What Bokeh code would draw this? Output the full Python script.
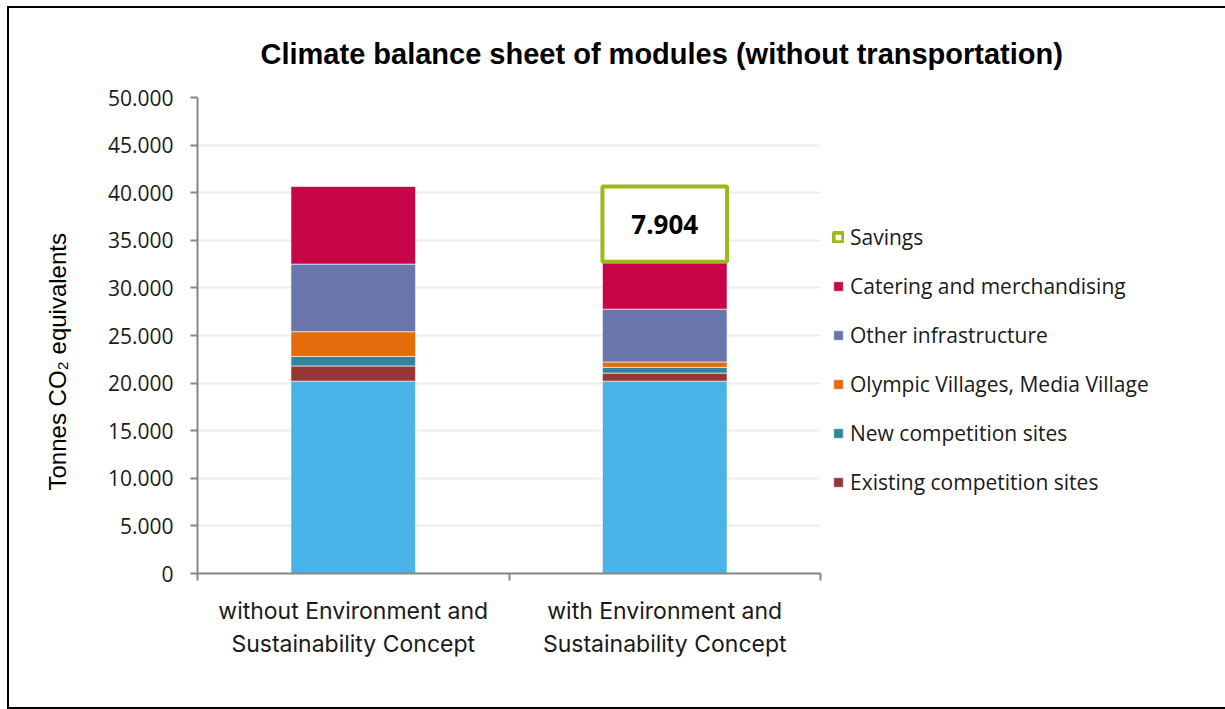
import math
from bokeh.plotting import figure
from bokeh.models import (Range1d, FixedTicker, Legend, LegendItem, Label, ColumnDataSource, Title)
from bokeh.embed import file_html
from bokeh.resources import INLINE

# ---------------- data ----------------
categories = ["without Environment and\nSustainability Concept",
              "with Environment and\nSustainability Concept"]
series_names = ["Base (not in legend)", "Existing competition sites", "New competition sites",
                "Olympic Villages, Media Village", "Other infrastructure",
                "Catering and merchandising"]
base_values = [20200, 20200]
existing_sites = [1600, 850]
new_sites = [1000, 600]
villages = [2600, 570]
other_infrastructure = [7100, 5550]
catering = [8150, 4976]
savings_label = "Savings"
savings_value = 7904
y_ticks = [0, 5000, 10000, 15000, 20000, 25000, 30000, 35000, 40000, 45000, 50000]
y_tick_labels = ["0", "5.000", "10.000", "15.000", "20.000", "25.000",
                 "30.000", "35.000", "40.000", "45.000", "50.000"]
title_text = "Climate balance sheet of modules (without transportation)"
y_label_text = "Tonnes CO\u2082 equivalents"

colors = ["#49B2E6", "#953735", "#31849B", "#E46C0A", "#6B75AD", "#C9054A"]
green = "#9CB91B"

n = len(categories)
centers = [i + 0.5 for i in range(n)]          # category slots on the axis
boundaries = list(range(n + 1))

series_values = [base_values, existing_sites, new_sites, villages, other_infrastructure, catering]
keys = ["s%d" % i for i in range(len(series_values))]
data = {"x": centers}
for k, v in zip(keys, series_values):
    data[k] = v
source = ColumnDataSource(data)

totals = [sum(v[i] for v in series_values) for i in range(n)]

# ---------------- figure ----------------
p = figure(x_range=Range1d(0, n), y_range=Range1d(0, 50000),
           frame_width=623, frame_height=476, output_backend="svg", toolbar_location=None,
           min_border_left=188, min_border_right=0, min_border_top=89, min_border_bottom=134)
p.styles = {"border": "2px solid black", "margin-left": "7px", "margin-top": "6px"}
p.outline_line_color = None
p.background_fill_color = "white"
p.border_fill_color = "white"

font = "Open Sans"

# title
p.title.text = title_text
p.title.align = "left"
p.title.offset = 63
p.title.text_font = "Liberation Sans"
p.title.text_font_style = "bold"
p.title.text_font_size = "29px"
p.title.text_color = "black"
p.title.standoff = 55

axis_grey = "#868686"

# y axis
yax = p.yaxis[0]
yax.ticker = FixedTicker(ticks=y_ticks)
yax.major_label_overrides = {t: l for t, l in zip(y_ticks, y_tick_labels)}
yax.major_tick_in = 0
yax.major_tick_out = 7
yax.minor_tick_line_color = None
yax.axis_line_color = axis_grey
yax.axis_line_width = 2
yax.major_tick_line_color = axis_grey
yax.major_tick_line_width = 2
yax.major_label_standoff = 17
yax.major_label_text_font = font
yax.major_label_text_font_size = "21px"
yax.major_label_text_color = "#1a1a1a"

# y label as a title on the left side
p.add_layout(Title(text=y_label_text, align="left", offset=83, standoff=64,
                   vertical_align="top",
                   text_font="Liberation Sans", text_font_size="24px",
                   text_font_style="normal", text_color="black"), "left")

p.ygrid.ticker = FixedTicker(ticks=y_ticks)
p.ygrid.grid_line_color = "#EEEEEE"
p.ygrid.grid_line_width = 2
p.xgrid.grid_line_color = None

# x axis: labels at category centres, boundary ticks as minor ticks
xax = p.xaxis[0]
xax.ticker = FixedTicker(ticks=centers, minor_ticks=boundaries)
xax.major_label_overrides = {c: lab for c, lab in zip(centers, categories)}
xax.major_tick_line_color = None
xax.major_tick_in = 0
xax.major_tick_out = 7
xax.minor_tick_in = 0
xax.minor_tick_out = 7
xax.minor_tick_line_color = axis_grey
xax.minor_tick_line_width = 2
xax.axis_line_color = axis_grey
xax.axis_line_width = 2
xax.major_label_standoff = 16
xax.major_label_text_font = "Inter"
xax.major_label_text_font_size = "23px"
xax.major_label_text_color = "#1a1a1a"

# stacked bars
renderers = p.vbar_stack(keys, x="x", width=0.4, source=source, color=colors,
                         line_color="white", line_alpha=0.6, line_width=1)

# savings box
sav_src = ColumnDataSource({"x": [centers[1]], "bottom": [totals[1]], "top": [totals[0]]})
sav_r = p.vbar(x="x", bottom="bottom", top="top", width=0.4, source=sav_src,
               fill_color="white", line_color=green, line_width=4)
p.add_layout(Label(x=centers[1], y=(totals[0] + totals[1]) / 2,
                   text=f"{savings_value:,}".replace(",", "."),
                   text_font=font, text_font_style="bold", text_font_size="26px",
                   text_align="center", text_baseline="middle", text_color="black"))

# legend
items = [LegendItem(label=savings_label, renderers=[sav_r])]
for i in range(len(series_names) - 1, 0, -1):
    items.append(LegendItem(label=series_names[i], renderers=[renderers[i]]))
legend = Legend(items=items, location=(12, 77), orientation="vertical",
                border_line_color=None, background_fill_alpha=0,
                label_text_font=font, label_text_font_size="21px", label_text_color="#1a1a1a",
                glyph_width=12, glyph_height=12, label_standoff=6, label_height=29,
                spacing=20, padding=0, margin=0)
p.add_layout(legend, "right")

open("out.html", "w").write(file_html(p, INLINE))
